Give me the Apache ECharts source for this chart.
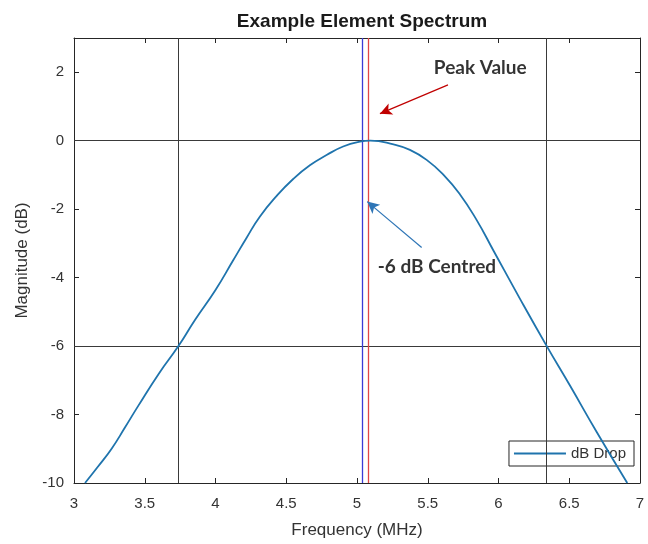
<!DOCTYPE html>
<html><head><meta charset="utf-8">
<script src="https://cdn.jsdelivr.net/npm/echarts@6/dist/echarts.min.js"></script>
<style>html,body{margin:0;padding:0;background:#fff}#c{width:648px;height:544px}</style>
</head><body><div id="c"></div>
<script>
// Curve data
const freq = [3.078, 3.170, 3.267, 3.360, 3.455, 3.597, 3.738, 3.856, 4.000, 4.124, 4.219, 4.313, 4.431, 4.549, 4.667, 4.785, 4.902, 5.020, 5.094, 5.258, 5.374, 5.492, 5.610, 5.728, 5.846, 5.963, 6.152, 6.341, 6.506, 6.694, 6.910];
const mag  = [-10.0, -9.52, -8.99, -8.38, -7.74, -6.82, -6.0, -5.23, -4.36, -3.50, -2.84, -2.22, -1.62, -1.12, -0.72, -0.42, -0.17, -0.03, 0, -0.11, -0.27, -0.56, -0.99, -1.57, -2.32, -3.20, -4.62, -6.0, -7.16, -8.51, -10.0];
// Reference lines
const gridX = [3.738, 6.341];
const gridY = [0, -6];
const centreX = 5.035;   // -6 dB centred (blue)
const peakX = 5.075;     // peak value (red)
// Annotations: [label, textX, textY, arrowFromX, arrowFromY, arrowToX, arrowToY, colour]
const notes = [
  ['Peak Value', 5.871, 2.14, 5.643, 1.63, 5.162, 0.79, '#c00000'],
  ['-6 dB Centred', 5.565, -3.70, 5.457, -3.12, 5.072, -1.78, '#2e75b6']
];
const xTicks = {min: 3, max: 7, interval: 0.5};
const yTicks = {min: -10, max: 3, interval: 2};

const chart = echarts.init(document.getElementById('c'));
const txt = '#333333';
const axisCommon = {
  axisLine: {show: true, onZero: false, lineStyle: {color: '#262626', width: 1}},
  axisTick: {show: true, inside: true, length: 5, lineStyle: {color: '#262626'}},
  splitLine: {show: false}
};
chart.setOption({
  animation: false,
  title: {text: 'Example Element Spectrum', left: 357, textAlign: 'center', top: 7,
    textStyle: {fontFamily: 'Liberation Sans', fontSize: 19, fontWeight: 'bold', color: '#1a1a1a'}},
  grid: {left: 74, right: 8, top: 38, bottom: 56, containLabel: false},
  legend: {data: [{name: 'dB Drop', icon: 'rect'}], right: 14, top: 441, orient: 'horizontal',
    borderColor: '#262626', borderWidth: 1, borderRadius: 0, backgroundColor: '#fff',
    padding: [5, 8, 5, 5], itemWidth: 52, itemHeight: 2,
    itemStyle: {color: '#1f74ad'},
    textStyle: {fontFamily: 'Liberation Sans', fontSize: 15, color: txt, lineHeight: 15}},
  xAxis: [
    Object.assign({type: 'value', position: 'bottom', min: xTicks.min, max: xTicks.max, interval: xTicks.interval,
      name: 'Frequency (MHz)', nameLocation: 'middle', nameGap: 39,
      nameTextStyle: {fontFamily: 'Liberation Sans', fontSize: 17, color: txt},
      axisLabel: {margin: 13, fontFamily: 'Liberation Sans', fontSize: 15, color: txt}}, axisCommon),
    Object.assign({type: 'value', position: 'top', min: xTicks.min, max: xTicks.max, interval: xTicks.interval,
      axisLabel: {show: false}}, axisCommon)
  ],
  yAxis: [
    Object.assign({type: 'value', position: 'left', min: yTicks.min, max: yTicks.max, interval: yTicks.interval,
      name: 'Magnitude (dB)', nameLocation: 'middle', nameGap: 43,
      nameTextStyle: {fontFamily: 'Liberation Sans', fontSize: 17, color: txt},
      axisLabel: {margin: 10, showMaxLabel: false, fontFamily: 'Liberation Sans', fontSize: 15, color: txt,
        formatter: v => (v > 2.5 ? '' : String(v))}}, axisCommon),
    Object.assign({type: 'value', position: 'right', min: yTicks.min, max: yTicks.max, interval: yTicks.interval,
      axisLabel: {show: false}}, axisCommon)
  ],
  series: [
    {
      name: 'dB Drop', type: 'line', xAxisIndex: 0, yAxisIndex: 0,
      data: freq.map((f, i) => [f, mag[i]]),
      smooth: 0.5, symbol: 'none', clip: true,
      lineStyle: {color: '#1f74ad', width: 1.8}, itemStyle: {color: '#1f74ad'},
      z: 5,
      markLine: {
        silent: true, symbol: ['none', 'none'], label: {show: false},
        lineStyle: {type: 'solid', color: '#3a3a3a', width: 1},
        data: gridX.map(v => ({xAxis: v})).concat(gridY.map(v => ({yAxis: v}))).concat([
          {xAxis: centreX, lineStyle: {color: '#3b3bd6', width: 1.3, type: 'solid'}},
          {xAxis: peakX, lineStyle: {color: '#e04545', width: 1.3, type: 'solid'}}
        ])
      }
    },
    {
      name: 'arrows', type: 'line', data: [], xAxisIndex: 0, yAxisIndex: 0,
      markLine: {
        silent: true, label: {show: false}, symbolSize: [9, 12],
        data: notes.map(n => [
          {coord: [n[3], n[4]], symbol: 'none', lineStyle: {color: n[7], width: 1.2, type: 'solid'}},
          {coord: [n[5], n[6]], symbol: 'arrow', itemStyle: {color: n[7]}}
        ])
      }
    },
    {
      name: 'notes', type: 'scatter', xAxisIndex: 0, yAxisIndex: 0, symbolSize: 1,
      itemStyle: {color: 'rgba(0,0,0,0)'},
      z: 10,
      data: notes.map(n => ({value: [n[1], n[2]], name: n[0]})),
      label: {show: true, position: 'inside', formatter: p => p.name,
        fontFamily: 'Lato', fontWeight: 'bold', fontSize: 19, color: '#000'}
    }
  ]
});
</script></body></html>
